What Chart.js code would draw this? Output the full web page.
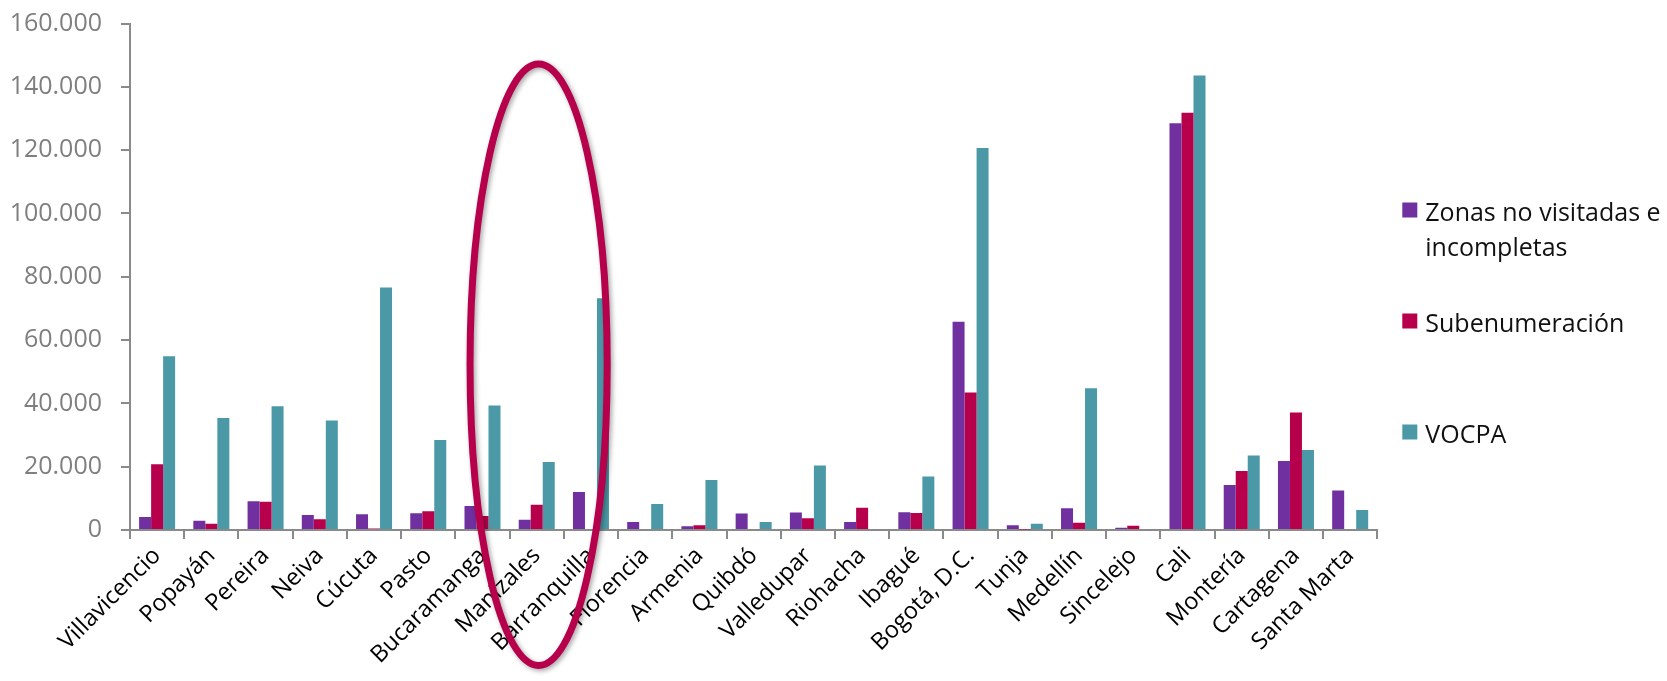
<!DOCTYPE html>
<html>
<head>
<meta charset="utf-8">
<script src="https://cdn.jsdelivr.net/npm/chart.js@4.4.1/dist/chart.umd.min.js"></script>
<style>
  html, body { margin: 0; padding: 0; background: #ffffff; overflow: hidden; }
  #wrap { position: relative; width: 1667px; height: 681px; }
  canvas { display: block; }
</style>
</head>
<body>
<div id="wrap"><canvas id="c" width="1667" height="681"></canvas></div>
<script>
// ---------- data ----------
const categories = [
  'Villavicencio', 'Popayán', 'Pereira', 'Neiva', 'Cúcuta', 'Pasto', 'Bucaramanga',
  'Manizales', 'Barranquilla', 'Florencia', 'Armenia', 'Quibdó', 'Valledupar',
  'Riohacha', 'Ibagué', 'Bogotá, D.C.', 'Tunja', 'Medellín', 'Sincelejo', 'Cali',
  'Montería', 'Cartagena', 'Santa Marta'
];
const zonasNoVisitadas = [
  4100, 2900, 9100, 4700, 5000, 5300, 7600,
  3200, 12000, 2500, 1200, 5200, 5500,
  2500, 5600, 65800, 1500, 6900, 700, 128500,
  14200, 21800, 12500
];
const subenumeracion = [
  20800, 2000, 8900, 3400, 500, 5900, 4400,
  8000, 0, 0, 1500, 0, 3700,
  7000, 5400, 43400, 150, 2300, 1350, 131800,
  18600, 37100, 0
];
const vocpa = [
  54900, 35400, 39100, 34600, 76600, 28400, 39300,
  21500, 73200, 8200, 15800, 2500, 20400,
  0, 16900, 120700, 2000, 44800, 300, 143600,
  23500, 25300, 6300
];
const seriesLabels = [
  ['Zonas no visitadas e', 'incompletas'],
  ['Subenumeración'],
  ['VOCPA']
];
const yTickValues = [0, 20000, 40000, 60000, 80000, 100000, 120000, 140000, 160000];
// highlighted region (category index range, value range) for the ellipse
const highlightIndex = [5.77, 8.30];
const highlightValue = [147200, -42800];

// ---------- styles ----------
const colors = ['#7030A0', '#B7004B', '#4B99A7'];
const axisGrey = '#8a8a8a';
const FONT = '"Open Sans", "Noto Sans", sans-serif';

function fmtThousands(v) {
  return String(Math.round(v)).replace(/\B(?=(\d{3})+(?!\d))/g, '.');
}

const ellipsePlugin = {
  id: 'highlightEllipse',
  afterDraw(chart) {
    const x = chart.scales.x, y = chart.scales.y;
    const x1 = x.getPixelForValue(highlightIndex[0]);
    const x2 = x.getPixelForValue(highlightIndex[1]);
    const y1 = y.getPixelForValue(highlightValue[0]);
    const y2 = y.getPixelForValue(highlightValue[1]);
    const ctx = chart.ctx;
    ctx.save();
    ctx.beginPath();
    ctx.ellipse((x1 + x2) / 2, (y1 + y2) / 2, Math.abs(x2 - x1) / 2, Math.abs(y2 - y1) / 2, 0, 0, Math.PI * 2);
    ctx.shadowColor = 'rgba(0,0,0,0.35)';
    ctx.shadowBlur = 5;
    ctx.shadowOffsetX = 2;
    ctx.shadowOffsetY = 2;
    ctx.lineWidth = 7;
    ctx.strokeStyle = '#B7004B';
    ctx.stroke();
    ctx.restore();
  }
};

const legendPlugin = {
  id: 'sideLegend',
  afterDraw(chart) {
    const ctx = chart.ctx;
    const area = chart.chartArea;
    const boxX = area.right + 25;
    const textX = boxX + 23;
    const box = 15;
    const centers = [210, 321, 432];
    const lineH = 35;
    ctx.save();
    ctx.font = '25px ' + FONT;
    ctx.textAlign = 'left';
    ctx.textBaseline = 'middle';
    chart.data.datasets.forEach((ds, i) => {
      const cy = centers[i];
      ctx.fillStyle = ds.backgroundColor;
      ctx.fillRect(boxX, cy - box / 2, box, box);
      ctx.fillStyle = '#111111';
      seriesLabels[i].forEach((line, j) => {
        ctx.fillText(line, textX, cy + 4 + j * lineH);
      });
    });
    ctx.restore();
  }
};

function build() {
  new Chart(document.getElementById('c'), {
    type: 'bar',
    data: {
      labels: categories,
      datasets: [
        { label: seriesLabels[0].join(' '), data: zonasNoVisitadas, backgroundColor: colors[0] },
        { label: seriesLabels[1].join(' '), data: subenumeracion, backgroundColor: colors[1] },
        { label: seriesLabels[2].join(' '), data: vocpa, backgroundColor: colors[2] }
      ]
    },
    options: {
      responsive: false,
      animation: false,
      devicePixelRatio: 1,
      layout: { padding: { top: 23.5, right: 289.7, bottom: 0, left: 0 } },
      datasets: { bar: { categoryPercentage: 0.664, barPercentage: 1.0, borderWidth: 0 } },
      plugins: {
        legend: { display: false },
        tooltip: { enabled: false }
      },
      scales: {
        x: {
          grid: { offset: true, drawOnChartArea: false, color: axisGrey, lineWidth: 2, tickLength: 9 },
          border: { display: true, color: axisGrey, width: 2 },
          ticks: {
            autoSkip: false, maxRotation: 45, minRotation: 45,
            color: '#000000', padding: 3,
            font: { family: FONT, size: 23.5 }
          },
          afterFit(s) { s.height = 151; }
        },
        y: {
          min: 0, max: 160000,
          afterBuildTicks(s) { s.ticks = yTickValues.map(v => ({ value: v })); },
          grid: { drawOnChartArea: false, color: axisGrey, lineWidth: 2, tickLength: 9 },
          border: { display: true, color: axisGrey, width: 2 },
          ticks: {
            color: '#7f7f7f', padding: 19,
            font: { family: FONT, size: 25 },
            callback: (v) => fmtThousands(v)
          },
          afterFit(s) { s.width = 130; s.paddingTop = 0; s.paddingBottom = 0; }
        }
      }
    },
    plugins: [ellipsePlugin, legendPlugin]
  });
}

if (document.fonts && document.fonts.load) {
  Promise.all([
    document.fonts.load('25px "Open Sans"'),
    document.fonts.load('23.5px "Open Sans"')
  ]).then(build, build);
} else {
  build();
}
</script>
</body>
</html>
